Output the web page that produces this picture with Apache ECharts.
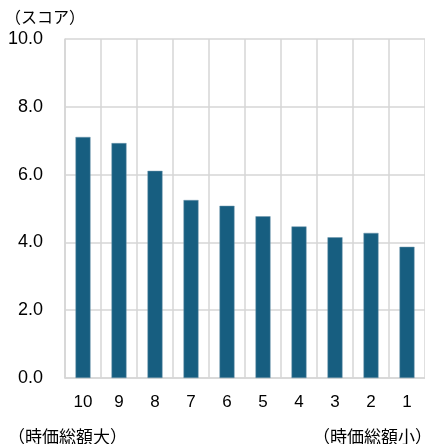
<!DOCTYPE html>
<html>
<head>
<meta charset="utf-8">
<script src="https://cdn.jsdelivr.net/npm/echarts@6/dist/echarts.min.js"></script>
<style>
  html, body { margin: 0; padding: 0; background: #ffffff; }
  #chart { width: 425px; height: 444px; }
</style>
</head>
<body>
<div id="chart"></div>
<script>
var categories = ['10', '9', '8', '7', '6', '5', '4', '3', '2', '1'];
var scores = [7.11, 6.93, 6.11, 5.25, 5.08, 4.77, 4.47, 4.15, 4.28, 3.87];
var yTicks = { min: 0, max: 10, interval: 2 };
var yAxisTitle = '（スコア）';
var leftNote = '（時価総額大）';
var rightNote = '（時価総額小）';

var latin = '"Liberation Sans", Arial, sans-serif';
var cjk = '"Noto Sans CJK JP", sans-serif';

var chart = echarts.init(document.getElementById('chart'), null, { renderer: 'canvas' });
chart.setOption({
  animation: false,
  backgroundColor: '#ffffff',
  grid: { left: 65, right: -7, top: 39, bottom: 66, containLabel: false },
  xAxis: {
    type: 'category',
    data: categories,
    boundaryGap: true,
    axisLine: { show: true, lineStyle: { color: '#d6d6d6', width: 1.5 } },
    axisTick: { show: false },
    splitLine: { show: true, lineStyle: { color: '#d6d6d6', width: 1.5 } },
    axisLabel: { color: '#000000', fontSize: 17, fontFamily: latin, margin: 16 }
  },
  yAxis: {
    type: 'value',
    min: yTicks.min, max: yTicks.max, interval: yTicks.interval,
    axisLine: { show: true, lineStyle: { color: '#d6d6d6', width: 1.5 } },
    axisTick: { show: false },
    splitLine: { show: true, lineStyle: { color: '#d6d6d6', width: 1.5 } },
    axisLabel: {
      color: '#000000', fontSize: 18, fontFamily: latin, margin: 22,
      formatter: function (v) { return v.toFixed(1); }
    }
  },
  series: [{
    type: 'bar',
    data: scores,
    barWidth: 15,
    itemStyle: { color: '#175e80', borderColor: '#6f97ad', borderWidth: 0.5 }
  }],
  graphic: [
    { type: 'text', left: 5, top: 9, style: { text: yAxisTitle, font: '16px ' + cjk, fill: '#000000' } },
    { type: 'text', left: 8, top: 428, style: { text: leftNote, font: '17px ' + cjk, fill: '#000000' } },
    { type: 'text', left: 313, top: 428, style: { text: rightNote, font: '17px ' + cjk, fill: '#000000' } }
  ]
});
</script>
</body>
</html>
